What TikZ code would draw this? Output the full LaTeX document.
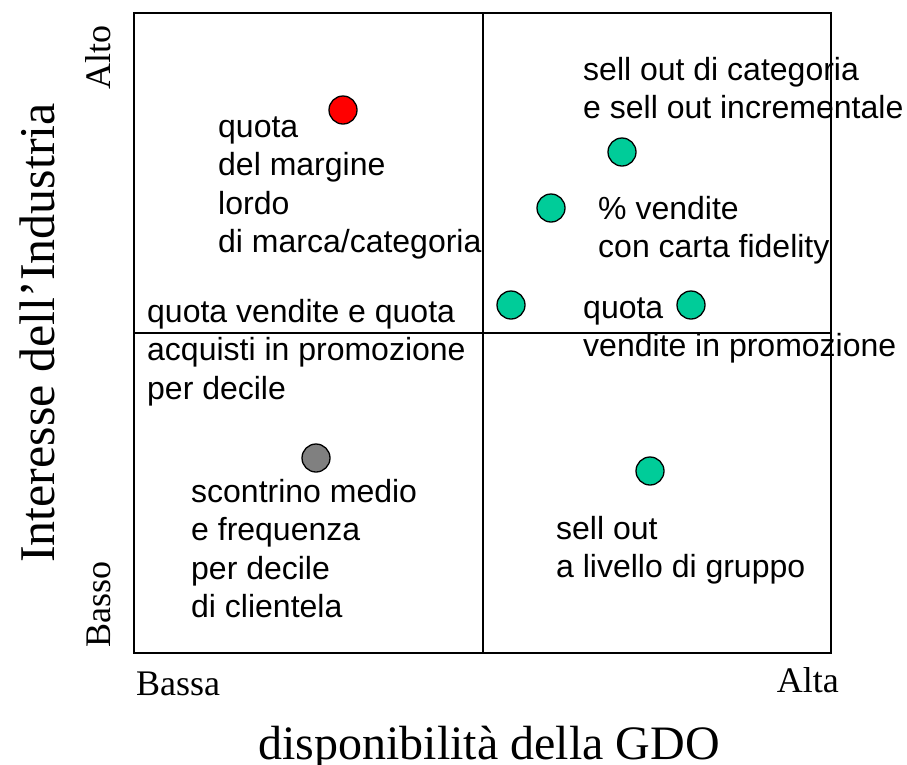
\documentclass[tikz,border=0pt]{standalone}
\usepackage{fontspec}
\setmainfont{Liberation Serif}
\newfontfamily\arialf{Liberation Sans}
\definecolor{dotgreen}{RGB}{0,204,153}
\definecolor{dotgray}{RGB}{128,128,128}
\begin{document}
\begin{tikzpicture}[x=1pt,y=-1pt,
  lbl/.style={font=\arialf\fontsize{32}{38.5}\selectfont, inner sep=0pt, anchor=base west, align=left},
  tick/.style={font=\fontsize{36}{40}\selectfont, inner sep=0pt},
  axt/.style={font=\fontsize{50}{56}\selectfont, inner sep=0pt},
  dot/.style={circle, draw=black, line width=1.3pt, minimum size=28pt, inner sep=0pt},
  frame/.style={draw=black, line width=1.6pt}]
\useasboundingbox (0,0) rectangle (907,764);
% frame
\coordinate (tl) at (134,13);
\coordinate (br) at (831,653);
\coordinate (mt) at (483,13);
\coordinate (mb) at (483,653);
\coordinate (ml) at (134,333);
\coordinate (mr) at (831,333);
\draw[frame] (tl) rectangle (br);
\draw[frame] (mt) -- (mb);
\draw[frame] (ml) -- (mr);
% dots
\node[dot, fill=red] (d1) at (343,110) {};
\node[dot, fill=dotgreen] (d2) at (622,152) {};
\node[dot, fill=dotgreen] (d3) at (551,208) {};
\node[dot, fill=dotgreen] (d4) at (511,305) {};
\node[dot, fill=dotgreen] (d5) at (691,305) {};
\node[dot, fill=dotgreen] (d6) at (650,471) {};
\node[dot, fill=dotgray] (d7) at (316,458) {};
% labels (anchor = baseline of the last line)
\node[lbl] (t1) at (218,252.5) {quota\\del margine\\lordo\\di marca/categoria};
\node[lbl] (t2) at (147,399) {quota vendite e quota\\acquisti in promozione\\per decile};
\node[lbl] (t3) at (191,617.5) {scontrino medio\\e frequenza\\per decile\\di clientela};
\node[lbl] (t4) at (583,118.5) {sell out di categoria\\e sell out incrementale};
\node[lbl] (t5) at (598,257.5) {\% vendite\\con carta fidelity};
\node[lbl] (t6) at (583,356.5) {quota\\vendite in promozione};
\node[lbl] (t7) at (556,577.5) {sell out\\a livello di gruppo};
% axis ticks
\node[tick, rotate=90, anchor=base west] (alto) at (110,90) {Alto};
\node[tick, rotate=90, anchor=base west] (basso) at (110,648) {Basso};
\node[tick, anchor=base west] (bassa) at (136,695) {Bassa};
\node[tick, anchor=base east] (alta) at (839,692) {Alta};
% axis titles
\node[axt, rotate=90, anchor=base] (ytitle) at (54,333) {Interesse dell’Industria};
\node[axt, font=\fontsize{48}{54}\selectfont, anchor=base] (xtitle) at (489,759) {disponibilità della GDO};
\end{tikzpicture}
\end{document}
